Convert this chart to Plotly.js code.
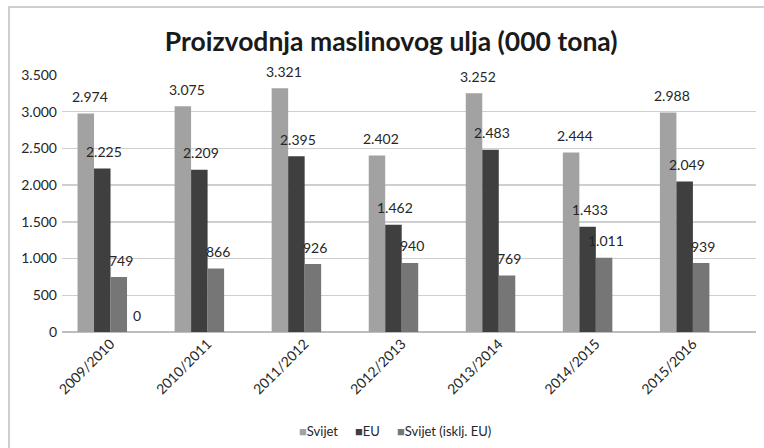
<!DOCTYPE html>
<html><head><meta charset="utf-8">
<script src="https://cdn.plot.ly/plotly-3.0.1.min.js"></script>
<style>
html,body{margin:0;padding:0;background:#fff;}
#chart{position:absolute;left:0;top:0;width:764px;height:448px;}
#frame{position:absolute;left:8px;top:6px;width:756px;height:442px;border-left:2px solid #cfcfcf;border-top:2px solid #cfcfcf;box-sizing:border-box;pointer-events:none;}
</style></head>
<body>
<div id="chart"></div><div id="frame"></div>
<script>
const categories = ["2009/2010","2010/2011","2011/2012","2012/2013","2013/2014","2014/2015","2015/2016"];
const svijet = [2974, 3075, 3321, 2402, 3252, 2444, 2988];
const eu = [2225, 2209, 2395, 1462, 2483, 1433, 2049];
const svijetBezEu = [749, 866, 926, 940, 769, 1011, 939];
const extraCategories = ["2009/2010"];
const extra = [0];
const seriesNames = ["Svijet", "EU", "Svijet (isklj. EU)", ""];
const yTicks = [0, 500, 1000, 1500, 2000, 2500, 3000, 3500];

const colors = ["#a2a2a2", "#3f3f3f", "#767676", "#bfbfbf"];
const allSeries = [svijet, eu, svijetBezEu, extra];
const allCats = [categories, categories, categories, extraCategories];
const FONT = "Lato, 'Open Sans', sans-serif";

function fmt(v){ return String(v).replace(/\B(?=(\d{3})+(?!\d))/g, "."); }

const traces = allSeries.map((vals, i) => ({
  type: "bar", x: allCats[i], y: vals, name: seriesNames[i],
  marker: {color: colors[i], line: {width: 0}},
  showlegend: false, hoverinfo: "none"
}));

const barPx = 16.6;
const annotations = [];
allSeries.forEach((vals, i) => {
  vals.forEach((v, j) => {
    annotations.push({
      x: allCats[i][j], y: v, xref: "x", yref: "y", text: fmt(v),
      showarrow: false, yanchor: "middle", yshift: 17,
      xshift: (i - 1.5) * barPx + (i === 0 ? 4 : 2),
      font: {family: FONT, size: 14, color: "#262626"}
    });
  });
});

// compact legend like the reference
const legendX = [297, 353, 395];
seriesNames.slice(0, 3).forEach((name, i) => {
  annotations.push({
    xref: "paper", yref: "paper", x: (legendX[i] - 62) / 694, y: -0.385,
    xanchor: "left", yanchor: "middle", showarrow: false,
    text: '<span style="color:' + colors[i] + '">■</span>' + name,
    font: {family: FONT, size: 13, color: "#262626"}
  });
});

const layout = {
  width: 764, height: 448,
  margin: {l: 62, r: 8, t: 75, b: 116},
  paper_bgcolor: "#ffffff", plot_bgcolor: "#ffffff",
  showlegend: false,
  title: {text: "<b>Proizvodnja maslinovog ulja (000 tona)</b>", x: 0.512, xanchor: "center",
          y: 0.906, yref: "container", yanchor: "middle",
          font: {family: FONT, size: 26.5, color: "#1a1a1a"}},
  barmode: "group", bargap: 0.32, bargroupgap: 0,
  separators: ",.",
  xaxis: {type: "category", categoryorder: "array", categoryarray: categories,
          range: [-0.5, 6.65], tickangle: -45, showgrid: false,
          showline: false, ticks: "", zeroline: false,
          tickfont: {family: FONT, size: 14, color: "#262626"}},
  yaxis: {range: [0, 3500], tickvals: yTicks, ticktext: yTicks.map(fmt),
          showgrid: true, gridcolor: "#cfcfcf", gridwidth: 1.5, zeroline: true, zerolinecolor: "#bdbdbd",
          zerolinewidth: 1.5, showline: false, ticks: "", ticklabelstandoff: 4,
          tickfont: {family: FONT, size: 14, color: "#262626"}},
  annotations: annotations
};

Plotly.newPlot("chart", traces, layout, {displayModeBar: false, staticPlot: true});
</script>
</body></html>
